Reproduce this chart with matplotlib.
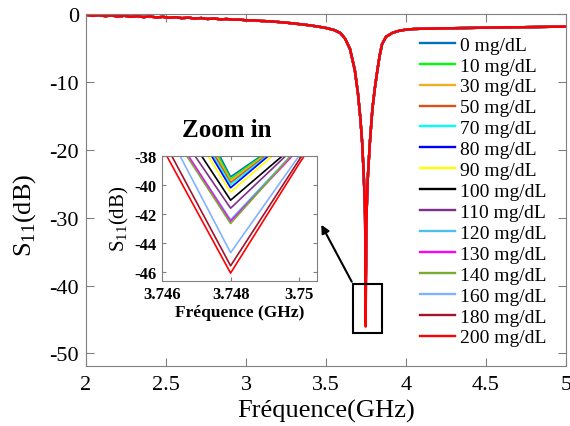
"""
S11 response of the sensor for several glucose concentrations, with zoom on the resonance
"""

import matplotlib
matplotlib.use('Agg')
import matplotlib.pyplot as plt
from matplotlib.patches import Rectangle

# concentrations and line colours
concentrations = [0, 10, 30, 50, 70, 80, 90, 100, 110, 120, 130, 140, 160, 180, 200]
colors = ['#0072BD', '#00FF00', '#EDB120', '#D95319', '#00FFFF', '#0000FF', '#FFFF00', '#000000',
          '#7E2F8E', '#4DBEEE', '#FF00FF', '#77AC30', '#80B3FF', '#A2142F', '#FF0000']

# shared part of the curve below the resonance (GHz, dB)
freq_low = [2.00, 2.04, 2.08, 2.12, 2.16, 2.20, 2.24, 2.28, 2.32, 2.36, 2.40, 2.44, 2.48, 2.52,
            2.56, 2.60, 2.64, 2.68, 2.72, 2.76, 2.80, 2.84, 2.88, 2.92, 2.96, 3.00, 3.05, 3.10,
            3.15, 3.20, 3.25, 3.30, 3.35, 3.40, 3.45, 3.50, 3.55, 3.59, 3.62, 3.65, 3.68, 3.70,
            3.715, 3.726, 3.736, 3.742, 3.744]
s11_low = [-0.15, -0.32, -0.20, -0.36, -0.26, -0.42, -0.30, -0.46, -0.36, -0.50, -0.40, -0.56,
           -0.46, -0.60, -0.52, -0.66, -0.58, -0.72, -0.64, -0.78, -0.70, -0.84, -0.78, -0.90,
           -0.86, -0.98, -0.98, -1.08, -1.12, -1.22, -1.32, -1.45, -1.58, -1.72, -1.90, -2.10,
           -2.40, -2.85, -3.70, -5.20, -8.30, -11.8, -15.5, -19.0, -23.8, -27.8, -29.5]

# shared part of the curve above the resonance
freq_high = [3.752, 3.756, 3.762, 3.774, 3.790, 3.805, 3.820, 3.835, 3.850, 3.875, 3.917, 3.960,
             4.00, 4.05, 4.13, 4.25, 4.50, 4.75, 5.00]
s11_high = [-31.5, -27.5, -23.8, -19.0, -14.0, -11.0, -8.5, -6.2, -4.5, -3.4, -2.8, -2.5,
            -2.35, -2.25, -2.20, -2.15, -2.06, -1.98, -1.90]

# values around the resonance for each concentration
freq_res = [3.746, 3.748, 3.750]
s11_3746 = [-30.3, -30.85, -31.48, -31.84, -32.15, -32.31, -32.86, -33.85, -34.67, -35.25,
            -35.19, -35.38, -35.61, -36.73, -37.38]
s11_3748 = [-39.45, -39.6, -39.7, -39.85, -40.0, -40.2, -40.5, -41.05, -41.6, -42.4,
            -42.5, -42.65, -44.65, -45.55, -46.05]
s11_3750 = [-36.2, -36.17, -36.23, -36.26, -36.29, -36.22, -36.41, -37.01, -37.12, -37.37,
            -37.5, -37.34, -37.97, -38.25, -38.51]

x_ticks = [2, 2.5, 3, 3.5, 4, 4.5, 5]
x_tick_labels = ['2', '2.5', '3', '3.5', '4', '4.5', '5']
y_ticks = [0, -10, -20, -30, -40, -50]
zoom_x_ticks = [3.746, 3.748, 3.75]
zoom_x_labels = ['3.746', '3.748', '3.75']
zoom_y_ticks = [-38, -40, -42, -44, -46]

plt.rcParams['font.family'] = 'Liberation Serif'
plt.rcParams['mathtext.fontset'] = 'custom'
plt.rcParams['mathtext.rm'] = 'Liberation Serif'
plt.rcParams['axes.unicode_minus'] = False

GRAY = '#808080'

fig = plt.figure(figsize=(5.7, 4.27), dpi=100)
ax = fig.add_axes([0.1509, 0.1412, 0.8421, 0.8244])

curves = []
for i, c in enumerate(concentrations):
    f = freq_low + freq_res + freq_high
    s = s11_low + [s11_3746[i], s11_3748[i], s11_3750[i]] + s11_high
    curves.append((f, s))
    ax.plot(f, s, color=colors[i], linewidth=1.7, label=str(c) + ' mg/dL')

ax.set_xlim(2, 5)
ax.set_ylim(-51.8, 0)
ax.set_xticks(x_ticks)
ax.set_xticklabels(x_tick_labels)
ax.set_yticks(y_ticks)
ax.tick_params(direction='in', top=True, right=True, length=6, width=0.8, color=GRAY,
               labelsize=16, pad=5)
ax.tick_params(axis='x', pad=7)
for sp in ax.spines.values():
    sp.set_color(GRAY)
ax.set_xlabel('Fréquence(GHz)', fontsize=19, labelpad=3)
ax.set_ylabel('S$_{11}$(dB)', fontsize=19)
ax.yaxis.set_label_coords(-0.1, 0.43)

# box around the resonance and arrow to the zoom
ax.add_patch(Rectangle((3.669, -47.05), 0.179, 7.25, fill=False, edgecolor='k', linewidth=1.5, zorder=5))
ax.annotate('', xy=(3.4625, -30.7), xytext=(3.669, -39.8),
            arrowprops=dict(arrowstyle='-|>', color='k', lw=1.5, mutation_scale=12))

ax.legend(loc='upper left', bbox_to_anchor=(420 / 570, 1 - 37 / 427), bbox_transform=fig.transFigure,
          frameon=False, fontsize=14, handlelength=1.8, handletextpad=0.28, labelspacing=0.17,
          borderpad=0, borderaxespad=0)

# zoom in
axin = fig.add_axes([0.2837, 0.3403, 0.2719, 0.2927])
for i, (f, s) in enumerate(curves):
    axin.plot(f, s, color=colors[i], linewidth=1.2)
axin.set_xlim(3.746, 3.7505)
axin.set_ylim(-46.57, -38)
axin.set_xticks(zoom_x_ticks)
axin.set_xticklabels(zoom_x_labels)
axin.set_yticks(zoom_y_ticks)
axin.tick_params(direction='in', top=True, right=True, length=3, width=0.8, color=GRAY,
                 labelsize=12, pad=4)
for lab in axin.get_xticklabels() + axin.get_yticklabels():
    lab.set_fontweight('bold')
for sp in axin.spines.values():
    sp.set_color(GRAY)
axin.set_xlabel('Fréquence (GHz)', fontsize=12.5, fontweight='bold', labelpad=1)
axin.set_ylabel('S$_{11}$(dB)', fontsize=15, labelpad=2)
axin.set_title('Zoom in', fontsize=18, fontweight='bold', pad=14, x=0.42)

fig.savefig('out.png', dpi=100)
